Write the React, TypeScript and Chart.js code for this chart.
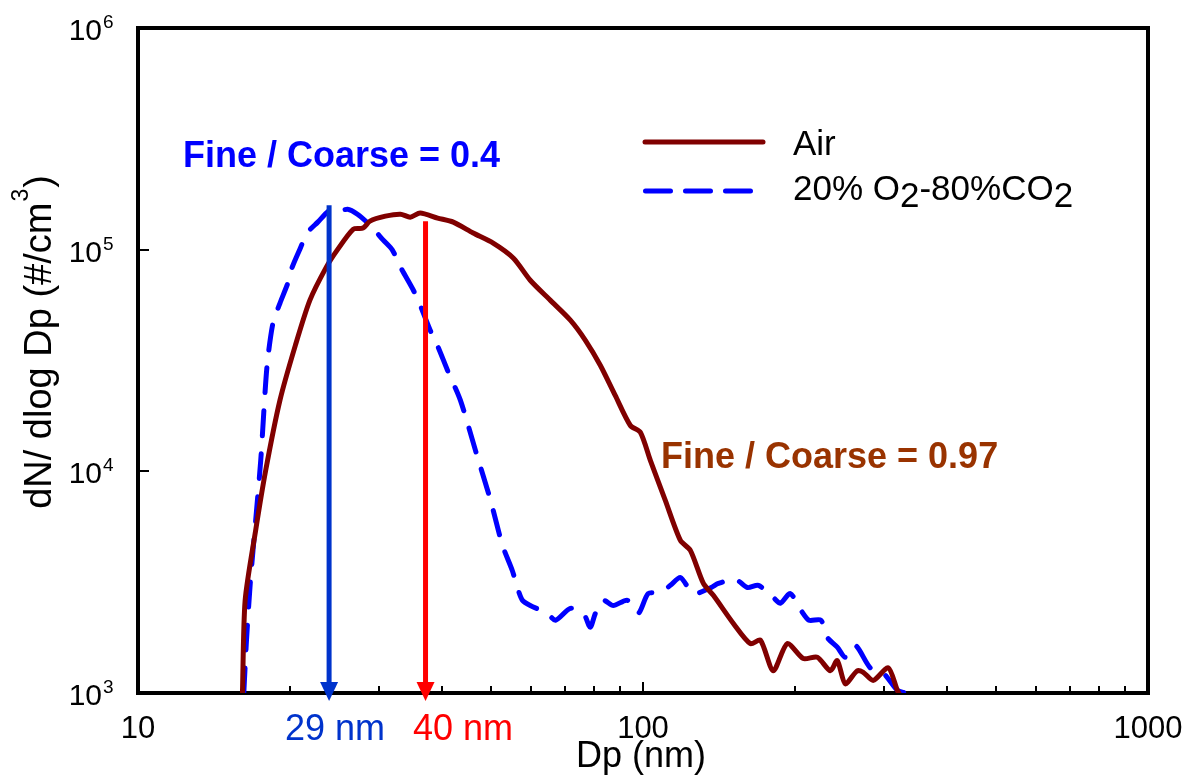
import React, { useEffect, useRef } from "react";
import { Chart, registerables } from "chart.js";

Chart.register(...registerables);

const FONT = '"Liberation Sans", Arial, Helvetica, sans-serif';

// Particle diameter (nm) and dN/dlogDp (#/cm3)
const airDp = [16.1, 16.3, 17.1, 17.9, 19.1, 20.5, 21.9, 23.6, 24.8, 26.7, 27.9, 28.8, 30.9, 33.1, 34.6, 36.2, 39.2, 42.1, 46.1, 50.5, 55.4, 59.8, 65.5, 71.8, 76.9, 82.3, 88.1, 94.4, 98.8, 103.4, 110.7, 118.6, 124.1, 131.7, 137.8, 151.0, 163.2, 170.8, 181.1, 193.1, 207.7, 221.4, 234.9, 242.5, 251.5, 265.6, 273.0, 285.8, 305.9, 318.8, 323.2];
const airN = [1000, 2620, 5420, 10100, 20900, 37100, 59200, 83400, 99500, 123800, 125100, 134500, 141600, 144600, 140200, 146200, 138800, 133100, 118800, 107000, 91500, 72800, 59200, 48100, 39000, 30100, 22000, 16100, 15000, 11200, 7400, 4880, 4400, 3120, 2760, 2060, 1670, 1730, 1260, 1670, 1430, 1450, 1260, 1400, 1100, 1260, 1240, 1140, 1300, 1030, 975];

const oxyDp = [16.2, 16.4, 16.7, 17.1, 17.5, 18.0, 18.5, 19.1, 19.8, 20.2, 21.0, 21.6, 22.7, 24.0, 24.8, 26.0, 27.2, 28.8, 30.6, 31.9, 33.1, 35.1, 36.2, 37.9, 39.3, 41.0, 43.5, 46.6, 49.9, 52.7, 55.1, 56.4, 57.7, 59.8, 64.6, 67.1, 71.8, 76.2, 78.6, 80.5, 83.4, 87.3, 93.1, 97.9, 102.4, 108.2, 113.3, 118.6, 125.8, 136.4, 141.0, 152.6, 161.0, 169.2, 181.1, 187.1, 195.7, 205.5, 213.1, 225.1, 231.7, 242.5, 251.5, 263.3, 281.8, 299.1, 318.8, 330.7];
const oxyN = [1000, 1730, 3220, 6010, 11200, 29500, 46600, 57300, 70600, 83400, 102600, 118800, 133100, 150800, 147700, 152300, 144600, 129000, 110400, 99500, 83400, 65600, 56200, 43300, 36300, 28600, 20900, 12400, 7400, 4630, 3570, 2990, 2620, 2480, 2290, 2130, 2410, 2290, 1980, 2290, 2620, 2480, 2620, 2290, 2810, 2840, 3060, 3320, 2810, 2990, 3120, 3250, 2990, 3060, 2700, 2540, 2810, 2360, 2130, 2130, 1780, 1610, 1450, 1640, 1300, 1230, 1030, 1000];

const seriesLabels = ["Air", "20% O2-80%CO2"];

// Axis ticks
const xMajorTicks = [10, 100, 1000];
const xMinorTicks = [20, 30, 40, 50, 60, 70, 80, 90, 200, 300, 400, 500, 600, 700, 800, 900];
const yExponents = [3, 4, 5, 6];

// Peak diameter arrows
const arrowDp = [23.9, 37.1];
const arrowTopN = [158800, 134500];
const arrowLabels = ["29 nm", "40 nm"];

const ratioLabels = ["Fine / Coarse = 0.4", "Fine / Coarse = 0.97"];

export default function App() {
  const ref = useRef<HTMLCanvasElement>(null);

  useEffect(() => {
    const canvas = ref.current;
    if (!canvas) return;

    const overlay = {
      id: "overlay",
      beforeDatasetsDraw(chart: any) {
        const { ctx, chartArea: a } = chart;
        ctx.save();
        ctx.strokeStyle = "#000";
        ctx.lineWidth = 4;
        ctx.strokeRect(a.left, a.top, a.right - a.left, a.bottom - a.top);
        const xs = chart.scales.x;
        const ys = chart.scales.y;
        ctx.lineWidth = 2;
        ctx.beginPath();
        xMinorTicks.forEach((v) => {
          const px = Math.round(xs.getPixelForValue(v));
          ctx.moveTo(px, a.bottom);
          ctx.lineTo(px, a.bottom - 7);
        });
        xMajorTicks.forEach((v) => {
          const px = Math.round(xs.getPixelForValue(v));
          ctx.moveTo(px, a.bottom);
          ctx.lineTo(px, a.bottom - 11);
        });
        yExponents.forEach((e) => {
          const py = Math.round(ys.getPixelForValue(Math.pow(10, e)));
          ctx.moveTo(a.left, py);
          ctx.lineTo(a.left + 11, py);
        });
        ctx.stroke();
        ctx.restore();
      },
      afterDatasetsDraw(chart: any) {
        const { ctx, chartArea: a } = chart;
        const xs = chart.scales.x;
        const ys = chart.scales.y;
        ctx.save();

        // arrows
        const arrowColors = ["#0033cc", "#ff0000"];
        arrowDp.forEach((d, i) => {
          const px = xs.getPixelForValue(d);
          const top = ys.getPixelForValue(arrowTopN[i]);
          ctx.strokeStyle = arrowColors[i];
          ctx.fillStyle = arrowColors[i];
          ctx.lineWidth = 5;
          ctx.lineCap = "butt";
          ctx.beginPath();
          ctx.moveTo(px, top);
          ctx.lineTo(px, a.bottom - 10);
          ctx.stroke();
          ctx.beginPath();
          ctx.moveTo(px - 9, a.bottom - 11);
          ctx.lineTo(px + 9, a.bottom - 11);
          ctx.lineTo(px, a.bottom + 8);
          ctx.closePath();
          ctx.fill();
        });

        // x tick labels
        ctx.fillStyle = "#000";
        ctx.font = `31px ${FONT}`;
        ctx.textAlign = "center";
        ctx.textBaseline = "alphabetic";
        xMajorTicks.forEach((v) => {
          ctx.fillText(String(v), xs.getPixelForValue(v), a.bottom + 45);
        });

        // y tick labels 10^n
        yExponents.forEach((e) => {
          const py = ys.getPixelForValue(Math.pow(10, e));
          ctx.font = `30px ${FONT}`;
          ctx.textAlign = "right";
          ctx.fillText("10", 102, py + 12);
          ctx.font = `19px ${FONT}`;
          ctx.textAlign = "left";
          ctx.fillText(String(e), 103, py);
        });

        // axis titles
        ctx.font = `36px ${FONT}`;
        ctx.textAlign = "center";
        ctx.fillText("Dp (nm)", (a.left + a.right) / 2 - 2, 767);

        ctx.save();
        ctx.translate(42, 343);
        ctx.rotate(-Math.PI / 2);
        ctx.textAlign = "left";
        const t1 = "dN/ dlog Dp (#/cm";
        ctx.font = `38px ${FONT}`;
        const w1 = ctx.measureText(t1).width;
        const w3 = ctx.measureText(")").width;
        ctx.font = `23px ${FONT}`;
        const w2 = ctx.measureText("3").width;
        const x0 = -(w1 + w2 + w3) / 2;
        ctx.font = `38px ${FONT}`;
        ctx.fillText(t1, x0, 9);
        ctx.font = `23px ${FONT}`;
        ctx.fillText("3", x0 + w1 + 1, -14);
        ctx.font = `38px ${FONT}`;
        ctx.fillText(")", x0 + w1 + w2 + 2, 9);
        ctx.restore();

        // arrow labels
        ctx.font = `36px ${FONT}`;
        ctx.textAlign = "left";
        ctx.fillStyle = "#0033cc";
        ctx.fillText(arrowLabels[0], 285, 740);
        ctx.fillStyle = "#ff0000";
        ctx.fillText(arrowLabels[1], 413, 740);

        // ratio annotations
        ctx.font = `bold 36px ${FONT}`;
        ctx.fillStyle = "#0000ff";
        ctx.fillText(ratioLabels[0], 183, 167);
        ctx.fillStyle = "#993300";
        ctx.fillText(ratioLabels[1], 661, 468);

        // legend
        ctx.lineWidth = 5;
        ctx.lineCap = "round";
        ctx.strokeStyle = "#800000";
        ctx.beginPath();
        ctx.moveTo(645, 142);
        ctx.lineTo(763, 142);
        ctx.stroke();
        ctx.strokeStyle = "#0000ff";
        ctx.setLineDash([25, 15]);
        ctx.beginPath();
        ctx.moveTo(645.5, 191);
        ctx.lineTo(751, 191);
        ctx.stroke();
        ctx.setLineDash([]);

        ctx.fillStyle = "#000";
        ctx.font = `35px ${FONT}`;
        ctx.fillText(seriesLabels[0], 793, 155);
        let lx = 793;
        const parts: [string, boolean][] = [["20% O", false], ["2", true], ["-80%CO", false], ["2", true]];
        parts.forEach(([s, sub]) => {
          ctx.fillText(s, lx, sub ? 207 : 200);
          lx += ctx.measureText(s).width;
        });

        ctx.restore();
      },
    };

    const chart = new Chart(canvas, {
      type: "line",
      data: {
        datasets: [
          {
            label: seriesLabels[0],
            data: airDp.map((x, i) => ({ x, y: airN[i] })),
            borderColor: "#800000",
            borderWidth: 5,
            pointRadius: 0,
            tension: 0.25,
            fill: false,
            borderJoinStyle: "round",
            borderCapStyle: "round",
          },
          {
            label: seriesLabels[1],
            data: oxyDp.map((x, i) => ({ x, y: oxyN[i] })),
            borderColor: "#0000ff",
            borderWidth: 5,
            borderDash: [25, 18],
            borderCapStyle: "round",
            borderJoinStyle: "round",
            pointRadius: 0,
            tension: 0.25,
            fill: false,
          },
        ],
      },
      options: {
        animation: false,
        responsive: false,
        devicePixelRatio: 1,
        layout: { padding: { left: 138, right: 40, top: 28, bottom: 82 } },
        scales: {
          x: { type: "logarithmic", min: 10, max: 1000, display: false },
          y: { type: "logarithmic", min: 1000, max: 1000000, display: false },
        },
        plugins: {
          legend: { display: false },
          tooltip: { enabled: false },
        },
      },
      plugins: [overlay],
    } as any);

    return () => chart.destroy();
  }, []);

  return (
    <div style={{ position: "fixed", left: 0, top: 0, width: 1188, height: 775, background: "#fff" }}>
      <canvas ref={ref} width={1188} height={775} />
    </div>
  );
}
